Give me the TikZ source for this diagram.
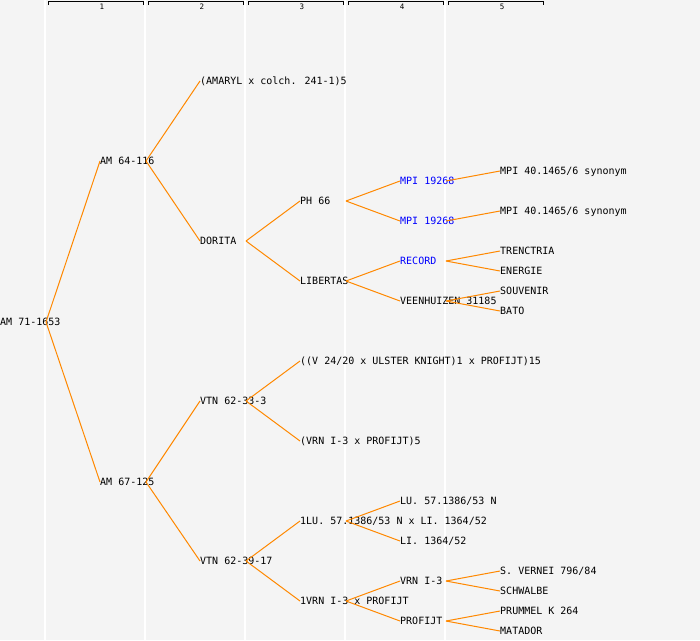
\documentclass[tikz,border=0pt]{standalone}
\usepackage{fontspec}
\newfontfamily\monof{DejaVu Sans Mono}
\definecolor{bgc}{RGB}{244,244,244}
\definecolor{linec}{RGB}{255,136,0}
\definecolor{bluec}{RGB}{0,0,255}
\begin{document}
\begin{tikzpicture}[x=1pt,y=-1pt,
  lbl/.style={anchor=west, inner sep=0pt, font=\monof\fontsize{10}{12}\selectfont, text height=7pt, text depth=0pt},
  blu/.style={lbl, text=bluec},
  conn/.style={draw=linec, line width=1pt},
  colline/.style={draw=white, line width=1.2pt},
  brack/.style={draw=black, line width=1pt},
  hdr/.style={inner sep=0pt, font=\monof\fontsize{7.5}{8}\selectfont}]
\useasboundingbox[fill=bgc] (0,0) rectangle (700,640);
% column separators
\foreach \cx in {45,145,245,345,445} \draw[colline] (\cx,0) -- (\cx,640);
% headers
\foreach \i/\bx in {1/48,2/148,3/248,4/348,5/448} {
  \draw[brack] (\bx,5) -- (\bx,1.5) -- (\bx+95,1.5) -- (\bx+95,5);
  \node[hdr] (h\i) at (\bx+54,6.5) {\i};
}
% nodes
\node[lbl] (r) at (0,322) {AM 71-1653};
\node[lbl] (a1) at (100,161) {AM 64-116};
\node[lbl] (a2) at (100,482) {AM 67-125};
\node[lbl] (b1) at (200,81) {(AMARYL x colch. 241-1)5};
\node[lbl] (b2) at (200,241) {DORITA};
\node[lbl] (b3) at (200,401) {VTN 62-33-3};
\node[lbl] (b4) at (200,561) {VTN 62-39-17};
\node[lbl] (c1) at (300,201) {PH 66};
\node[lbl] (c2) at (300,281) {LIBERTAS};
\node[lbl] (c3) at (300,361) {((V 24/20 x ULSTER KNIGHT)1 x PROFIJT)15};
\node[lbl] (c4) at (300,441) {(VRN I-3 x PROFIJT)5};
\node[lbl] (c5) at (300,521) {1LU. 57.1386/53 N x LI. 1364/52};
\node[lbl] (c6) at (300,601) {1VRN I-3 x PROFIJT};
\node[blu] (d1) at (400,181) {MPI 19268};
\node[blu] (d2) at (400,221) {MPI 19268};
\node[blu] (d3) at (400,261) {RECORD};
\node[lbl] (d4) at (400,301) {VEENHUIZEN 31185};
\node[lbl] (d5) at (400,501) {LU. 57.1386/53 N};
\node[lbl] (d6) at (400,541) {LI. 1364/52};
\node[lbl] (d7) at (400,581) {VRN I-3};
\node[lbl] (d8) at (400,621) {PROFIJT};
\node[lbl] (e1) at (500,171) {MPI 40.1465/6 synonym};
\node[lbl] (e2) at (500,211) {MPI 40.1465/6 synonym};
\node[lbl] (e3) at (500,251) {TRENCTRIA};
\node[lbl] (e4) at (500,271) {ENERGIE};
\node[lbl] (e5) at (500,291) {SOUVENIR};
\node[lbl] (e6) at (500,311) {BATO};
\node[lbl] (e7) at (500,571) {S. VERNEI 796/84};
\node[lbl] (e8) at (500,591) {SCHWALBE};
\node[lbl] (e9) at (500,611) {PRUMMEL K 264};
\node[lbl] (e10) at (500,631) {MATADOR};
% connectors
\foreach \p/\c in {r/a1,r/a2,a1/b1,a1/b2,a2/b3,a2/b4,b2/c1,b2/c2,b3/c3,b3/c4,b4/c5,b4/c6,
  c1/d1,c1/d2,c2/d3,c2/d4,c5/d5,c5/d6,c6/d7,c6/d8,
  d1/e1,d2/e2,d3/e3,d3/e4,d4/e5,d4/e6,d7/e7,d7/e8,d8/e9,d8/e10}
  \draw[conn] ([xshift=46pt]\p.west) -- (\c.west);
\end{tikzpicture}
\end{document}
